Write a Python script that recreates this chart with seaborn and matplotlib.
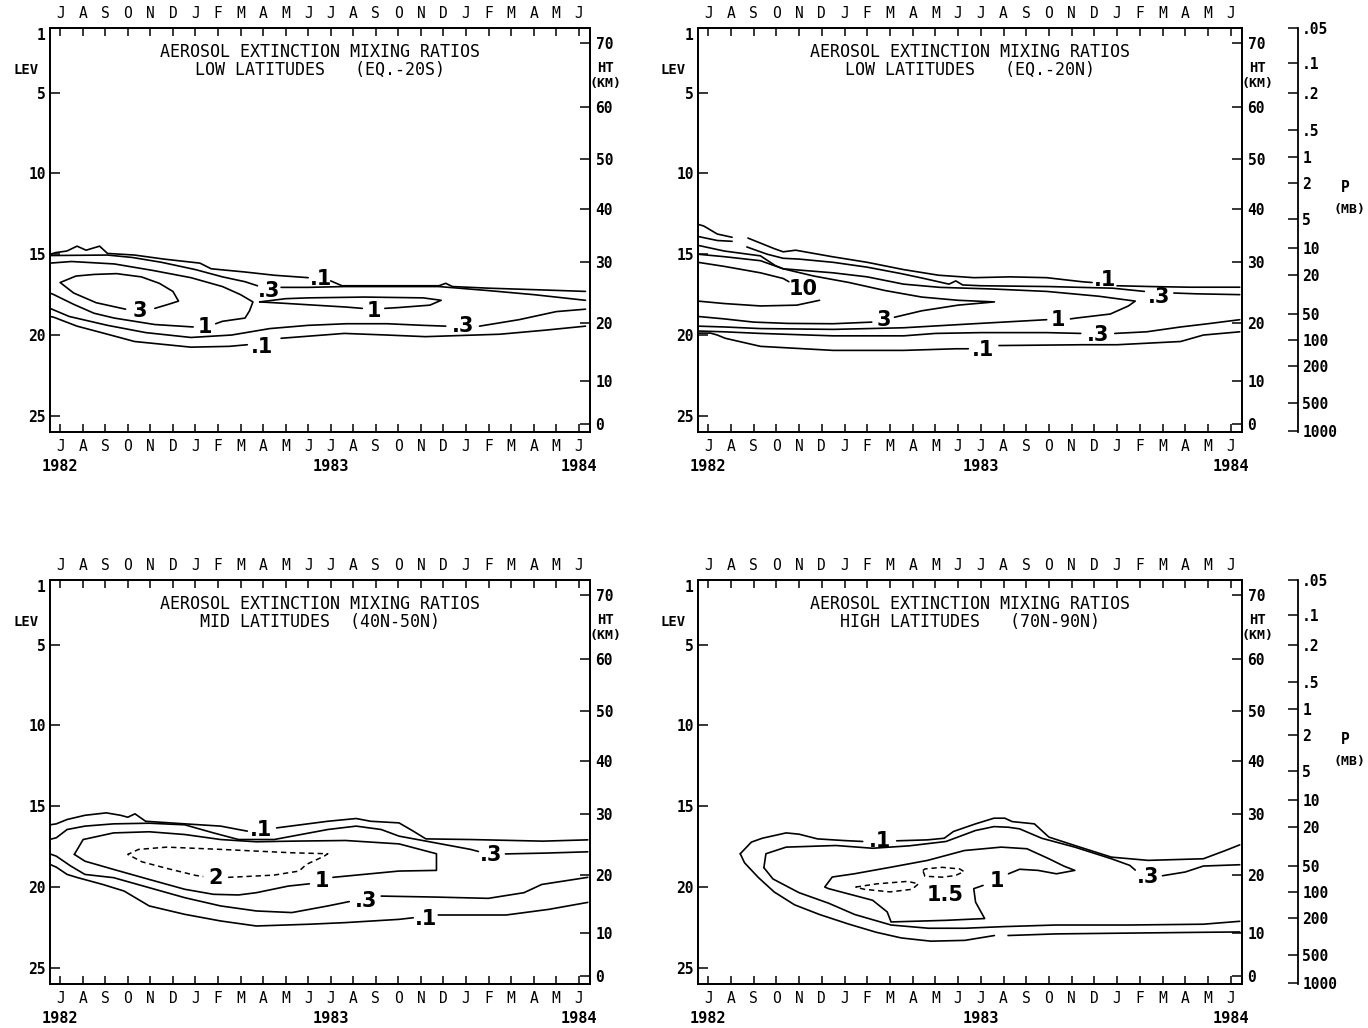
import matplotlib
matplotlib.use("Agg")
import matplotlib.pyplot as plt
import matplotlib.transforms as mtransforms
import seaborn as sns

# ---- axis values ----
months = list("JASONDJFMAMJJASONDJFMAMJ")
years = ["1982", "1983", "1984"]
year_month = [0, 12, 23]
lev_ticks = [1, 5, 10, 15, 20, 25]
ht_km = [70, 60, 50, 40, 30, 20, 10, 0]
ht_lev = [1.95, 5.9, 9.1, 12.2, 15.5, 19.25, 22.85, 25.5]
p_mb = [".05", ".1", ".2", ".5", "1", "2", "5", "10", "20", "50", "100", "200", "500", "1000"]
p_lev = [1.0, 3.15, 5.0, 7.3, 9.0, 10.6, 12.85, 14.6, 16.3, 18.7, 20.3, 21.9, 24.2, 25.95]

# ---- contour lines, (month index, level) pairs ----
# low latitudes EQ.-20S
tl_p1_a = [(-0.45, 15.0), (-0.2, 14.9), (0.3, 14.8), (0.75, 14.5), (1.15, 14.75), (1.75, 14.5), (2.1, 14.95),
           (3.3, 15.05), (4.6, 15.3), (6.2, 15.55), (6.7, 15.9), (8.2, 16.1), (9.5, 16.3), (11.0, 16.45)]
tl_p1_b = [(12.0, 16.65), (12.5, 16.95), (14.4, 16.95), (16.8, 16.95), (17.1, 16.8), (17.4, 17.0),
           (19.0, 17.1), (21.2, 17.2), (23.3, 17.3)]
tl_p3_a = [(-0.45, 15.08), (2.1, 15.05), (3.2, 15.2), (4.5, 15.5), (6.0, 15.95), (7.2, 16.4), (8.2, 16.7),
           (8.75, 16.95)]
tl_p3_b = [(9.8, 17.05), (11.0, 17.05), (12.6, 17.0), (14.4, 17.0), (16.8, 17.0), (19.0, 17.25),
           (21.0, 17.5), (23.3, 17.85)]
tl_1_a = [(-0.45, 15.55), (0.5, 15.45), (2.4, 15.6), (4.1, 16.0), (5.8, 16.45), (7.2, 17.0), (8.0, 17.5),
          (8.55, 17.95), (8.4, 18.5), (8.2, 18.95), (7.2, 19.15), (6.9, 19.3)]
tl_1_b = [(5.9, 19.5), (4.2, 19.35), (2.4, 18.95), (1.5, 18.65), (0.6, 18.1), (-0.28, 17.5), (-0.45, 17.4)]
tl_1m_a = [(8.85, 17.95), (10.0, 17.75), (11.0, 17.7), (13.5, 17.65), (16.1, 17.7), (16.9, 17.85),
           (16.4, 18.15), (15.0, 18.3), (14.4, 18.35)]
tl_1m_b = [(13.4, 18.35), (12.7, 18.27), (10.1, 18.05), (8.85, 17.95)]
tl_3_a = [(4.2, 18.35), (4.8, 18.1), (5.25, 17.9), (5.0, 17.3), (4.4, 16.8), (3.6, 16.4), (2.5, 16.2),
          (1.5, 16.25), (0.7, 16.35), (0.0, 16.75), (0.6, 17.4), (1.6, 18.0), (2.9, 18.4)]
tl_p3l_a = [(-0.45, 18.35), (-0.28, 18.45), (0.4, 18.85), (2.1, 19.4), (3.8, 19.85), (5.8, 20.15),
            (7.6, 20.0), (9.3, 19.6), (11.0, 19.4), (12.7, 19.3), (14.5, 19.3), (16.1, 19.4), (17.1, 19.45)]
tl_p3l_b = [(18.6, 19.45), (20.35, 19.05), (22.0, 18.55), (23.3, 18.4)]
tl_p1l_a = [(-0.45, 18.85), (-0.28, 18.9), (0.75, 19.45), (2.1, 19.95), (3.3, 20.4), (5.8, 20.75),
            (7.5, 20.7), (8.3, 20.6)]
tl_p1l_b = [(9.8, 20.2), (12.6, 19.9), (14.5, 20.0), (16.2, 20.1), (19.5, 19.95), (21.5, 19.7), (23.3, 19.45)]
tl_labels = [(".1", 11.55, 16.55), (".3", 9.25, 17.25), ("3", 3.55, 18.5), ("1", 6.4, 19.5),
             ("1", 13.9, 18.5), (".3", 17.85, 19.45), (".1", 8.95, 20.75)]

# low latitudes EQ.-20N
tr_p1_a = [(-0.45, 13.15), (-0.2, 13.25), (0.4, 13.75), (1.05, 13.95)]
tr_p1_b = [(1.75, 14.0), (2.9, 14.65), (3.3, 14.85), (3.85, 14.75), (5.45, 15.15), (7.0, 15.5),
           (8.6, 15.95), (10.15, 16.3), (11.7, 16.45), (13.3, 16.4), (14.9, 16.45), (16.45, 16.7), (16.9, 16.75)]
tr_p1_c = [(18.0, 16.95), (19.5, 17.0), (21.2, 17.04), (23.4, 17.04)]
tr_p3_a = [(-0.45, 13.9), (0.4, 14.15), (1.05, 14.2)]
tr_p3_b = [(1.7, 14.55), (2.6, 15.0), (3.3, 15.25), (4.0, 15.3), (5.5, 15.5), (7.0, 15.8), (8.5, 16.2),
           (9.5, 16.5), (10.6, 16.85), (10.9, 16.65), (11.2, 16.9), (12.0, 16.95), (15.0, 17.0),
           (17.8, 17.1), (19.2, 17.3)]
tr_p3_c = [(20.5, 17.4), (21.5, 17.45), (23.4, 17.5)]
tr_1_a = [(-0.45, 14.45), (0.7, 14.8), (2.3, 15.1), (2.95, 15.7), (3.3, 15.9), (5.5, 16.15), (7.0, 16.4),
          (8.6, 16.85), (10.2, 17.05), (12.5, 17.15), (14.9, 17.3), (17.2, 17.6), (18.8, 17.9),
          (18.5, 18.2), (17.7, 18.7), (16.2, 18.95), (15.95, 19.0)]
tr_1_b = [(14.9, 19.05), (11.7, 19.3), (8.6, 19.55), (5.5, 19.65), (2.3, 19.6), (0.7, 19.5), (-0.45, 19.45)]
tr_3_a = [(-0.45, 15.0), (0.7, 15.15), (2.3, 15.4), (3.3, 15.9), (4.65, 16.35), (6.2, 16.75), (7.8, 17.25),
          (9.4, 17.65), (11.0, 17.85), (12.6, 17.95), (11.0, 18.15), (9.4, 18.5), (8.5, 18.8), (8.2, 18.9)]
tr_3_b = [(7.2, 19.2), (5.5, 19.3), (3.5, 19.28), (2.0, 19.2), (0.7, 19.0), (-0.45, 18.85)]
tr_10_a = [(-0.45, 15.5), (0.7, 15.75), (2.3, 16.15), (3.3, 16.5), (3.55, 16.7)]
tr_10_b = [(4.9, 17.85), (3.9, 18.15), (2.3, 18.2), (0.7, 18.05), (-0.45, 17.9)]
tr_p3l_a = [(-0.45, 19.75), (0.7, 19.8), (2.3, 19.9), (5.5, 20.05), (8.6, 20.05), (10.0, 19.9),
            (12.0, 19.85), (14.9, 19.85), (16.4, 19.9)]
tr_p3l_b = [(17.9, 19.9), (19.3, 19.8), (20.8, 19.5), (22.0, 19.3), (23.4, 19.05)]
tr_p1l_a = [(-0.45, 19.88), (0.1, 19.88), (0.4, 20.0), (0.75, 20.2), (2.3, 20.7), (5.5, 20.95),
            (8.6, 20.95), (10.9, 20.85), (11.45, 20.85)]
tr_p1l_b = [(12.8, 20.65), (16.5, 20.6), (18.0, 20.6), (20.8, 20.4), (21.8, 20.0), (23.4, 19.8)]
tr_labels = [(".1", 17.45, 16.6), ("10", 4.2, 17.15), ("3", 7.75, 19.05), ("1", 15.4, 19.05),
             (".3", 19.85, 17.65), (".3", 17.15, 20.0), (".1", 12.1, 20.9)]

# mid latitudes 40N-50N
bl_p1_a = [(-0.45, 16.15), (-0.17, 16.09), (0.31, 15.82), (1.1, 15.56), (2.05, 15.41), (2.68, 15.56),
           (3.0, 15.68), (3.32, 15.47), (3.79, 15.93), (5.53, 16.09), (7.12, 16.23), (7.91, 16.44), (8.3, 16.54)]
bl_p1_b = [(9.6, 16.34), (11.87, 15.93), (13.13, 15.76), (13.77, 15.93), (15.03, 16.03), (15.66, 16.54),
           (16.22, 17.02), (18.2, 17.06), (21.4, 17.16), (23.4, 17.08)]
bl_p3_a = [(-0.45, 17.05), (-0.17, 16.95), (0.31, 16.44), (1.1, 16.23), (2.37, 16.09), (3.95, 16.05),
           (5.53, 16.15), (6.8, 16.65), (7.91, 17.06), (9.49, 17.06), (11.87, 16.44), (13.13, 16.23),
           (14.24, 16.44), (15.03, 16.85), (16.62, 17.26), (18.2, 17.67), (18.55, 17.8)]
bl_p3_b = [(19.75, 17.95), (21.5, 17.9), (23.4, 17.82)]
bl_1_a = [(0.63, 17.98), (1.02, 17.06), (2.37, 16.65), (3.95, 16.58), (5.53, 16.75), (7.12, 17.06),
          (8.7, 17.2), (10.28, 17.16), (12.66, 17.12), (15.03, 17.33), (16.69, 17.94), (16.69, 18.97),
          (15.03, 19.01), (13.45, 19.22), (12.1, 19.4)]
bl_1_b = [(11.05, 19.8), (10.12, 19.94), (8.7, 20.35), (7.91, 20.49), (6.8, 20.45), (5.53, 20.14),
          (3.95, 19.53), (2.37, 18.91), (1.1, 18.4), (0.63, 17.98)]
bl_2_a = [(7.45, 19.4), (8.07, 19.36), (9.49, 19.26), (10.6, 19.01), (10.92, 18.6), (11.71, 18.09),
          (11.87, 17.94), (10.28, 17.88), (7.12, 17.67), (4.74, 17.53), (3.48, 17.67), (3.0, 17.98),
          (3.63, 18.44), (4.74, 18.85), (6.01, 19.28), (6.35, 19.35)]
bl_p3l_a = [(-0.45, 17.95), (-0.17, 18.09), (0.47, 18.7), (1.1, 19.22), (2.37, 19.42), (3.95, 20.04),
            (5.53, 20.66), (7.12, 21.17), (8.7, 21.48), (10.28, 21.58), (11.87, 21.17), (12.82, 20.9)]
bl_p3l_b = [(14.24, 20.56), (16.62, 20.62), (18.99, 20.7), (20.57, 20.35), (21.36, 19.84), (23.4, 19.4)]
bl_p1l_a = [(-0.45, 18.6), (-0.17, 18.77), (0.31, 19.22), (0.78, 19.42), (1.89, 19.84), (2.84, 20.25),
            (3.95, 21.17), (5.53, 21.69), (7.12, 22.1), (8.7, 22.41), (11.07, 22.3), (12.66, 22.2),
            (15.03, 22.0), (15.66, 21.9)]
bl_p1l_b = [(16.77, 21.73), (19.78, 21.73), (21.68, 21.38), (23.4, 20.95)]
bl_labels = [(".1", 8.9, 16.45), (".3", 19.1, 18.0), ("2", 6.9, 19.45), ("1", 11.6, 19.65),
             (".3", 13.55, 20.85), (".1", 16.25, 22.0)]

# high latitudes 70N-90N
br_p1_a = [(1.41, 17.94), (1.9, 17.22), (2.38, 16.98), (3.43, 16.65), (4.0, 16.73), (4.81, 17.02),
           (5.94, 17.12), (6.8, 17.18)]
br_p1_b = [(8.3, 17.14), (9.66, 17.08), (10.39, 16.98), (10.8, 16.56), (11.77, 16.09), (12.58, 15.74),
           (13.06, 15.74), (13.38, 15.95), (14.36, 16.09), (15.0, 16.91), (16.14, 17.43), (17.75, 18.15),
           (19.37, 18.35), (21.8, 18.25), (22.77, 17.74), (23.4, 17.39)]
br_p1_c = [(1.41, 17.94), (1.6, 18.5), (2.2, 19.4), (2.9, 20.3), (3.8, 21.1), (4.9, 21.7), (6.2, 22.3),
           (7.4, 22.8), (8.5, 23.15), (9.8, 23.35), (11.3, 23.3), (12.6, 23.0)]
br_p1_d = [(13.2, 23.0), (15.3, 22.9), (18.5, 22.85), (21.8, 22.8), (23.4, 22.78)]
br_p3_a = [(2.45, 18.8), (2.54, 17.94), (3.43, 17.53), (5.62, 17.43), (7.24, 17.6), (8.85, 17.45),
           (10.47, 17.18), (11.77, 16.5), (12.58, 16.26), (13.22, 16.3), (13.71, 16.4), (14.68, 16.98),
           (16.14, 17.53), (17.75, 18.25), (18.56, 18.66), (18.8, 18.95)]
br_p3_b = [(20.0, 19.3), (21.0, 19.07), (21.8, 18.7), (23.4, 18.62)]
br_p3_c = [(2.45, 18.8), (2.85, 19.5), (4.0, 20.35), (5.3, 21.0), (6.45, 21.7), (8.05, 22.35),
           (9.7, 22.55), (11.3, 22.55), (13.0, 22.45), (15.3, 22.35), (18.5, 22.35), (21.8, 22.3), (23.4, 22.12)]
br_1_a = [(12.1, 19.9), (11.69, 20.1), (11.77, 20.93), (12.17, 21.95), (10.47, 22.06), (8.05, 22.16),
          (7.88, 21.54), (7.24, 20.82), (5.3, 20.1), (5.13, 20.0), (5.46, 19.38), (6.43, 19.18),
          (8.05, 18.77), (9.66, 18.35), (11.28, 17.74), (12.9, 17.53), (14.03, 17.63), (15.0, 18.25),
          (15.65, 18.7), (16.14, 18.97), (15.33, 19.18), (14.52, 18.97), (13.71, 18.9), (13.22, 19.18)]
br_15_a = [(9.45, 18.98), (9.54, 18.88), (10.3, 18.78), (11.07, 18.88), (11.26, 19.04), (10.88, 19.29),
           (10.3, 19.39), (9.54, 19.33), (9.45, 18.98)]
br_15_b = [(6.49, 20.0), (7.44, 19.8), (8.78, 19.65), (9.26, 19.8), (8.97, 20.14), (8.0, 20.3),
           (6.87, 20.14), (6.49, 20.0)]
br_labels = [(".1", 7.55, 17.15), (".3", 19.35, 19.35), ("1.5", 10.45, 20.5), ("1", 12.7, 19.65)]

sns.set_theme(style="ticks", rc={"axes.edgecolor": "black", "axes.linewidth": 1.3,
                                 "xtick.color": "black", "ytick.color": "black",
                                 "text.color": "black", "axes.facecolor": "white"})
plt.rcParams["font.family"] = ["DejaVu Sans Mono"]

W, H = 1368, 1028
fig = plt.figure(figsize=(W / 100, H / 100), dpi=100)


def rect(x0, y0, x1, y1):
    return [x0 / W, 1 - y1 / H, (x1 - x0) / W, (y1 - y0) / H]


def draw_panel(r, subtitle, solid, dashed, labels, pressure):
    ax = fig.add_axes(r)
    for seg in solid:
        m, l = zip(*seg)
        sns.lineplot(x=list(m), y=list(l), sort=False, estimator=None, color="black",
                     linewidth=1.2, ax=ax)
    for seg in dashed:
        m, l = zip(*seg)
        sns.lineplot(x=list(m), y=list(l), sort=False, estimator=None, color="black",
                     linewidth=1.1, linestyle=(0, (3.5, 2.5)), ax=ax)
    for s, m, l in labels:
        ax.text(m, l, s, ha="center", va="center", fontsize=15, fontweight="bold",
                family="DejaVu Sans")

    ax.set_xlim(-0.45, 23.5)
    ax.set_ylim(26, 1)
    ax.set_xlabel("")
    ax.set_ylabel("")
    ax.set_xticks(range(len(months)))
    ax.set_xticklabels(months)
    ax.tick_params(axis="x", top=True, labeltop=True, bottom=True, labelbottom=True,
                   direction="in", length=6, width=1.1, pad=5, labelsize=10.5)
    ax.set_yticks(lev_ticks)
    ax.set_yticklabels([str(v) for v in lev_ticks], fontweight="bold")
    ax.tick_params(axis="y", left=True, right=False, direction="in", length=7, width=1.1,
                   pad=3, labelsize=10.5)
    ax.get_yticklabels()[0].set_va("top")

    tx = mtransforms.blended_transform_factory(ax.transData, ax.transAxes)
    for y, m in zip(years, year_month):
        ax.text(m, -0.085, y, transform=tx, ha="center", va="center", fontsize=11, fontweight="bold")

    ty = mtransforms.blended_transform_factory(ax.transAxes, ax.transData)
    ax.text(-0.045, 3.6, "LEV", transform=ty, ha="center", va="center", fontsize=10, fontweight="bold")
    ax.text(1.028, 3.5, "HT", transform=ty, ha="center", va="center", fontsize=10, fontweight="bold")
    ax.text(1.028, 4.45, "(KM)", transform=ty, ha="center", va="center", fontsize=9.5, fontweight="bold")

    ax.text(0.5, 0.941, "AEROSOL EXTINCTION MIXING RATIOS", transform=ax.transAxes,
            ha="center", va="center", fontsize=12)
    ax.text(0.5, 0.897, subtitle, transform=ax.transAxes, ha="center", va="center", fontsize=12)

    ax2 = ax.twinx()
    ax2.set_ylim(26, 1)
    ax2.set_yticks(ht_lev)
    ax2.set_yticklabels([str(v) for v in ht_km], fontweight="bold")
    ax2.tick_params(axis="y", direction="in", length=7, width=1.1, pad=4, labelsize=10.5)

    if pressure:
        pr = ax.get_position()
        pax = fig.add_axes([1298 / W - 0.01, pr.y0, 0.01, pr.height])
        pax.set_ylim(26, 1)
        for sp in ["left", "top", "bottom"]:
            pax.spines[sp].set_visible(False)
        pax.patch.set_visible(False)
        pax.set_xticks([])
        pax.yaxis.tick_right()
        pax.set_yticks(p_lev)
        pax.set_yticklabels(p_mb, fontweight="bold")
        pax.tick_params(axis="y", direction="in", length=7, width=1.1, pad=3, labelsize=10.5)
        tp = mtransforms.blended_transform_factory(fig.transFigure, ax.transData)
        fig.text(1345 / W, 10.9, "P", transform=tp, ha="center", va="center", fontsize=10.5,
                 fontweight="bold")
        fig.text(1349 / W, 12.25, "(MB)", transform=tp, ha="center", va="center", fontsize=9.5,
                 fontweight="bold")
    return ax


draw_panel(rect(50, 28, 590, 432), "LOW LATITUDES   (EQ.-20S)",
           [tl_p1_a, tl_p1_b, tl_p3_a, tl_p3_b, tl_1_a, tl_1_b, tl_1m_a, tl_1m_b, tl_3_a,
            tl_p3l_a, tl_p3l_b, tl_p1l_a, tl_p1l_b], [], tl_labels, False)
draw_panel(rect(698, 28, 1242, 432), "LOW LATITUDES   (EQ.-20N)",
           [tr_p1_a, tr_p1_b, tr_p1_c, tr_p3_a, tr_p3_b, tr_p3_c, tr_1_a, tr_1_b, tr_3_a, tr_3_b,
            tr_10_a, tr_10_b, tr_p3l_a, tr_p3l_b, tr_p1l_a, tr_p1l_b], [], tr_labels, True)
draw_panel(rect(50, 580, 590, 984), "MID LATITUDES  (40N-50N)",
           [bl_p1_a, bl_p1_b, bl_p3_a, bl_p3_b, bl_1_a, bl_1_b, bl_p3l_a, bl_p3l_b, bl_p1l_a, bl_p1l_b],
           [bl_2_a], bl_labels, False)
draw_panel(rect(698, 580, 1242, 984), "HIGH LATITUDES   (70N-90N)",
           [br_p1_a, br_p1_b, br_p1_c, br_p1_d, br_p3_a, br_p3_b, br_p3_c, br_1_a],
           [br_15_a, br_15_b], br_labels, True)

fig.savefig("out.png", dpi=100)
